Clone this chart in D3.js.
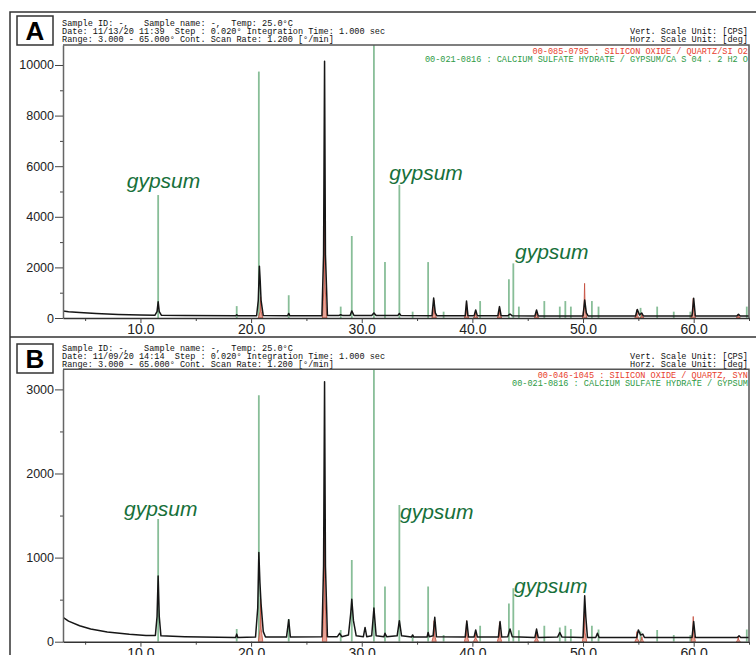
<!DOCTYPE html>
<html>
<head>
<meta charset="utf-8">
<script src="https://cdn.jsdelivr.net/npm/d3@7"></script>
<style>
  body { margin: 0; background: #fff; }
  svg { display: block; }
  .mono { font-family: "Liberation Mono", "Courier New", monospace; font-size: 8.55px; white-space: pre; }
  .tick text { font-family: "Liberation Sans", Arial, sans-serif; fill: #222; }
</style>
</head>
<body>
<svg width="756" height="655"></svg>
<script>
// ---- data ----
const xTicks = [10, 20, 30, 40, 50, 60];
const xMinor = [5, 15, 25, 35, 45, 55, 65];
const yTicksA = [0, 2000, 4000, 6000, 8000, 10000];
const yMinorA = [1000, 3000, 5000, 7000, 9000];
const yTicksB = [0, 1000, 2000, 3000];
const yMinorB = [500, 1500, 2500];

const headerA = [
  "Sample ID: -,   Sample name: -,  Temp: 25.0°C",
  "Date: 11/13/20 11:39  Step : 0.020° Integration Time: 1.000 sec",
  "Range: 3.000 - 65.000° Cont. Scan Rate: 1.200 [°/min]"
];
const headerB = [
  "Sample ID: -,   Sample name: -,  Temp: 25.0°C",
  "Date: 11/09/20 14:14  Step : 0.020° Integration Time: 1.000 sec",
  "Range: 3.000 - 65.000° Cont. Scan Rate: 1.200 [°/min]"
];
const unitLines = ["Vert. Scale Unit: [CPS]", "Horz. Scale Unit: [deg]"];
const quartzCardA = "00-085-0795 : SILICON OXIDE / QUARTZ/SI O2";
const gypsumCardA = "00-021-0816 : CALCIUM SULFATE HYDRATE / GYPSUM/CA S 04 . 2 H2 O";
const quartzCardB = "00-046-1045 : SILICON OXIDE / QUARTZ, SYN";
const gypsumCardB = "00-021-0816 : CALCIUM SULFATE HYDRATE / GYPSUM";

// gypsum reference sticks (2theta, height in A, height in B)
const gypsumPos = [11.6, 18.7, 20.7, 23.4, 28.1, 29.1, 31.1, 32.1, 33.4, 34.6, 36.0, 37.4, 40.7,
  43.3, 43.7, 44.2, 46.5, 47.9, 48.4, 48.9, 50.8, 51.4, 55.2, 56.7, 58.2, 59.7, 64.8];
const gypsumA = [4860, 470, 9740, 900, 450, 3240, 12000, 2210, 5260, 250, 2210, 250, 670,
  1530, 2160, 450, 670, 450, 670, 450, 670, 450, 400, 450, 250, 250, 450];
const gypsumB = [1460, 150, 2930, 270, 140, 970, 3600, 655, 1625, 80, 655, 80, 190,
  455, 635, 135, 190, 170, 190, 150, 190, 145, 120, 140, 80, 80, 145];

// quartz reference peaks (2theta, height in A, height in B)
const quartzPos = [20.86, 26.64, 36.54, 39.47, 40.29, 42.45, 45.79, 50.14, 54.87, 55.32, 59.96, 64.03];
const quartzA = [840, 4200, 700, 650, 300, 450, 300, 1370, 320, 150, 780, 150];
const quartzB = [505, 1730, 250, 250, 120, 230, 130, 350, 120, 60, 300, 60];

const scanA_tth = [3.0, 3.5, 4.5, 6, 8, 10, 11.3, 11.5, 11.6, 11.7, 11.9, 14, 18.6, 18.7, 18.8,
  20.5, 20.65, 20.75, 20.82, 20.9, 21.1, 23.3, 23.4, 23.5, 26.4, 26.55, 26.64, 26.72, 26.9,
  27.9, 28.1, 28.3, 28.95, 29.1, 29.3, 30.9, 31.1, 31.3, 33.25, 33.4, 33.55, 36.35, 36.5, 36.65,
  36.8, 39.35, 39.47, 39.6, 40.15, 40.3, 40.45, 42.3, 42.45, 42.6, 43.2, 43.4, 43.6, 45.65, 45.8,
  45.95, 50.0, 50.15, 50.3, 50.45, 54.75, 54.9, 55.1, 55.3, 55.45, 59.85, 60.0, 60.15, 63.9,
  64.05, 64.2, 65];
const scanA_cps = [280, 250, 215, 175, 140, 115, 105, 250, 640, 250, 105, 95, 90, 130, 90,
  90, 700, 2050, 1500, 700, 95, 90, 180, 90, 90, 2500, 10150, 2500, 95,
  95, 130, 95, 100, 280, 100, 95, 200, 95, 95, 180, 95, 85, 790, 200,
  85, 85, 670, 85, 85, 320, 85, 85, 450, 85, 85, 160, 85, 80, 320,
  80, 80, 710, 200, 80, 80, 340, 120, 200, 80, 80, 780, 80, 75,
  150, 75, 75];

// measured scan B
const scanB_tth = [3.0, 3.5, 4.5, 5.5, 7, 9, 10.5, 11.35, 11.5, 11.6, 11.7, 11.85, 14, 18.6, 18.7,
  18.8, 20.4, 20.6, 20.7, 20.8, 20.9, 21.1, 21.3, 23.2, 23.4, 23.55, 26.4, 26.55, 26.64, 26.72,
  26.9, 27.8, 28.0, 28.2, 28.8, 29.0, 29.1, 29.25, 29.5, 30.15, 30.3, 30.45, 30.9, 31.1, 31.3,
  32.0, 32.1, 32.25, 33.2, 33.4, 33.6, 34.5, 34.6, 34.7, 35.9, 36.0, 36.1, 36.45, 36.6, 36.75,
  39.35, 39.5, 39.65, 40.15, 40.3, 40.45, 42.35, 42.5, 42.65, 43.2, 43.4, 43.6, 45.65, 45.8,
  45.95, 47.7, 47.9, 48.1, 50.0, 50.15, 50.25, 50.4, 51.15, 51.3, 51.45, 54.85, 55.0, 55.2,
  55.4, 55.55, 59.85, 60.0, 60.15, 63.95, 64.1, 64.25, 65];
const scanB_cps = [290, 245, 190, 150, 115, 88, 75, 75, 300, 780, 300, 70, 60, 50, 90,
  50, 55, 400, 1060, 700, 450, 120, 55, 55, 260, 55, 60, 900, 3090, 900,
  60, 60, 100, 60, 80, 330, 505, 250, 70, 60, 170, 60, 70, 400, 70,
  60, 100, 60, 70, 250, 70, 55, 80, 55, 55, 110, 60, 70, 290, 60,
  55, 245, 55, 55, 140, 55, 55, 240, 55, 60, 150, 60, 50, 150,
  50, 55, 110, 55, 50, 545, 300, 50, 50, 100, 50, 50, 140, 80,
  90, 50, 50, 240, 50, 50, 70, 50, 50];

// "gypsum" annotations (2theta, cps)
const noteA_tth = [8.76, 32.49, 43.85];
const noteA_cps = [5140, 5450, 2320];
const noteB_tth = [8.51, 33.46, 43.76];
const noteB_cps = [1495, 1460, 575];

// ---- drawing ----
const svg = d3.select("svg");
const x = d3.scaleLinear().domain([3, 65]).range([63, 749]);

// outer frame
svg.append("path")
  .attr("d", "M756,12 H10 V655 M10,337 H756")
  .attr("fill", "none").attr("stroke", "#333").attr("stroke-width", 1.5);

const panels = [
  { id: "A", top: 45, bottom: 318, ymax: 10790, major: yTicksA, minor: yMinorA,
    header: headerA, boxTop: 16, headY: 25.5, quartzCard: quartzCardA, gypsumCard: gypsumCardA,
    gyp: gypsumA, qtz: quartzA, tth: scanA_tth, cps: scanA_cps, nx: noteA_tth, ny: noteA_cps },
  { id: "B", top: 369.3, bottom: 641.7, ymax: 3239, major: yTicksB, minor: yMinorB,
    header: headerB, boxTop: 344, headY: 350.5, quartzCard: quartzCardB, gypsumCard: gypsumCardB,
    gyp: gypsumB, qtz: quartzB, tth: scanB_tth, cps: scanB_cps, nx: noteB_tth, ny: noteB_cps }
];

panels.forEach(function(p) {
  const y = d3.scaleLinear().domain([0, p.ymax]).range([p.bottom, p.top]);
  const g = svg.append("g").attr("id", "panel" + p.id);

  // letter box
  g.append("rect")
    .attr("x", 17).attr("y", p.boxTop).attr("width", 36).attr("height", 29)
    .attr("fill", "#fff").attr("stroke", "#333").attr("stroke-width", 1.5);
  g.append("text")
    .attr("x", 35).attr("y", p.boxTop + 24)
    .attr("text-anchor", "middle")
    .style("font-family", "'Liberation Sans', Arial, sans-serif")
    .style("font-weight", "bold").style("font-size", "26px")
    .text(p.id);

  // header text
  g.selectAll("text.head").data(p.header).enter().append("text")
    .attr("class", "mono head")
    .attr("x", 62).attr("y", function(d, i) { return p.headY + i * 8; })
    .attr("fill", "#111")
    .text(function(d) { return d; });
  g.selectAll("text.unit").data(unitLines).enter().append("text")
    .attr("class", "mono unit")
    .attr("x", 748).attr("y", function(d, i) { return p.headY + 8 + i * 8; })
    .attr("text-anchor", "end").attr("fill", "#111")
    .text(function(d) { return d; });

  // clip for plot area
  g.append("clipPath").attr("id", "clip" + p.id)
    .append("rect").attr("x", 63).attr("y", p.top)
    .attr("width", 749 - 63).attr("height", p.bottom - p.top);
  const plot = g.append("g").attr("clip-path", "url(#clip" + p.id + ")");

  // gypsum sticks
  plot.selectAll("line.gyp").data(gypsumPos).enter().append("line")
    .attr("class", "gyp")
    .attr("x1", function(d) { return x(d); }).attr("x2", function(d) { return x(d); })
    .attr("y1", y(0)).attr("y2", function(d, i) { return y(p.gyp[i]); })
    .attr("stroke", "#6aae7e").attr("stroke-width", 1.8).attr("stroke-opacity", 0.8);

  // quartz peaks
  plot.selectAll("path.qtz").data(quartzPos).enter().append("path")
    .attr("class", "qtz")
    .attr("d", function(d, i) {
      const h = y(p.qtz[i]);
      return "M" + x(d - 0.2) + "," + y(0) + "L" + x(d - 0.05) + "," + y(p.qtz[i] * 0.3) +
        "L" + x(d) + "," + h + "L" + x(d + 0.05) + "," + y(p.qtz[i] * 0.3) +
        "L" + x(d + 0.2) + "," + y(0) + "Z";
    })
    .attr("fill", "#e59484").attr("fill-opacity", 0.85)
    .attr("stroke", "#c44a3a").attr("stroke-width", 0.8);

  // measured scan
  const pts = p.tth.map(function(t, i) { return [t, p.cps[i]]; });
  plot.append("path").datum(pts)
    .attr("d", d3.line().x(function(d) { return x(d[0]); }).y(function(d) { return y(d[1]); }))
    .attr("fill", "none").attr("stroke", "#161616").attr("stroke-width", 1.5)
    .attr("stroke-linejoin", "round");

  // card legend
  plot.append("text").attr("class", "mono")
    .attr("x", 748).attr("y", p.top + 8.5).attr("text-anchor", "end")
    .attr("fill", "#e8412e").text(p.quartzCard);
  plot.append("text").attr("class", "mono")
    .attr("x", 748).attr("y", p.top + 16.8).attr("text-anchor", "end")
    .attr("fill", "#2e9a45").text(p.gypsumCard);

  // annotations
  g.selectAll("text.note").data(p.nx).enter().append("text")
    .attr("class", "note")
    .attr("x", function(d) { return x(d); })
    .attr("y", function(d, i) { return y(p.ny[i]); })
    .style("font-family", "'Liberation Sans', Arial, sans-serif")
    .style("font-style", "italic").style("font-size", "21px")
    .attr("fill", "#17703a")
    .text("gypsum");

  // plot frame (top & right)
  g.append("path")
    .attr("d", "M63," + p.top + " H749 V" + p.bottom)
    .attr("fill", "none").attr("stroke", "#555").attr("stroke-width", 1.5);

  // y axis
  g.append("g").attr("transform", "translate(63,0)")
    .call(d3.axisLeft(y).tickValues(p.minor).tickSize(3).tickSizeOuter(0).tickFormat(""))
    .call(function(a) { a.select(".domain").remove(); })
    .selectAll("line").attr("stroke", "#444");
  const ya = g.append("g").attr("transform", "translate(63,0)")
    .call(d3.axisLeft(y).tickValues(p.major).tickSize(8).tickSizeOuter(0).tickPadding(1)
      .tickFormat(d3.format("d")));
  ya.select(".domain").attr("stroke", "#666").attr("stroke-width", 1.5);
  ya.selectAll("line").attr("stroke", "#444");
  ya.selectAll("text").style("font-size", "12.5px");

  // x axis
  g.append("g").attr("transform", "translate(0," + p.bottom + ")")
    .call(d3.axisBottom(x).tickValues(xMinor).tickSize(3).tickSizeOuter(0).tickFormat(""))
    .call(function(a) { a.select(".domain").remove(); })
    .selectAll("line").attr("stroke", "#444");
  const xa = g.append("g").attr("transform", "translate(0," + p.bottom + ")")
    .call(d3.axisBottom(x).tickValues(xTicks).tickSize(5).tickSizeOuter(0).tickPadding(1)
      .tickFormat(d3.format(".1f")));
  xa.select(".domain").attr("stroke", "#333").attr("stroke-width", 1.5);
  xa.selectAll("line").attr("stroke", "#444");
  xa.selectAll("text").style("font-size", "14px");
});
</script>
</body>
</html>
